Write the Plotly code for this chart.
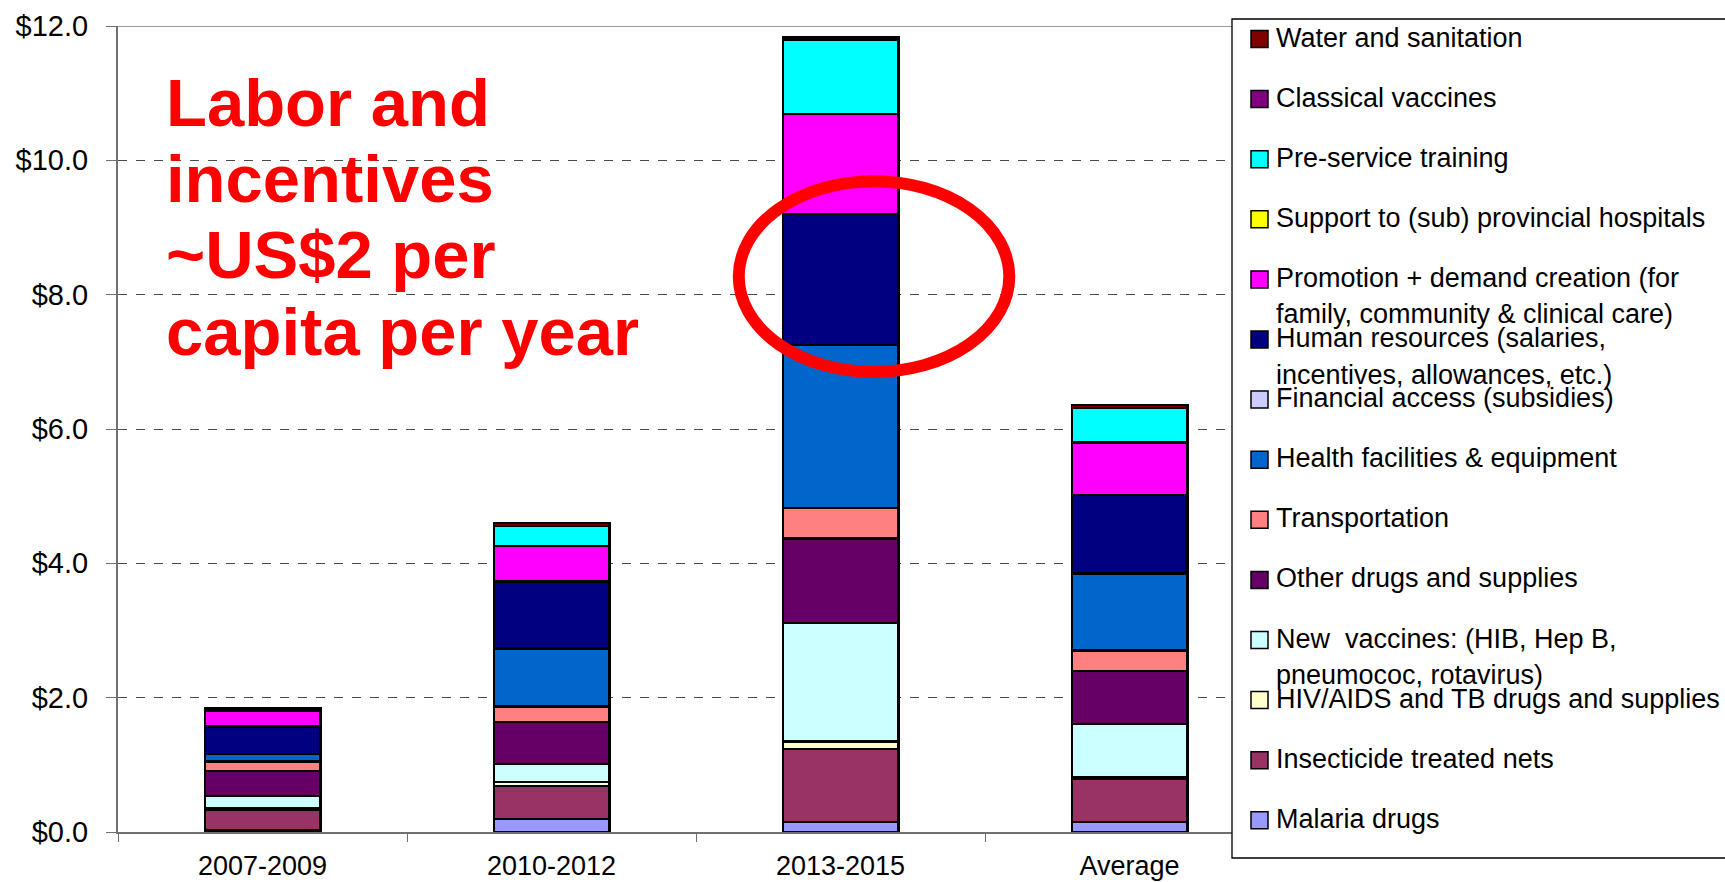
import plotly.graph_objects as go

# ---------------- data ----------------
categories = ["2007-2009", "2010-2012", "2013-2015", "Average"]

malaria_drugs = [0.02, 0.19, 0.15, 0.15]
insecticide_nets = [0.31, 0.495, 1.085, 0.635]
hiv_tb = [0.02, 0.06, 0.115, 0.035]
new_vaccines = [0.19, 0.265, 1.76, 0.79]
other_drugs = [0.37, 0.63, 1.26, 0.79]
transportation = [0.14, 0.23, 0.45, 0.30]
health_facilities = [0.11, 0.86, 2.43, 1.15]
financial_access = [0.0, 0.0, 0.0, 0.0]
human_resources = [0.41, 1.00, 1.95, 1.17]
promotion = [0.23, 0.53, 1.49, 0.78]
support_hospitals = [0.0, 0.0, 0.0, 0.0]
preservice_training = [0.01, 0.30, 1.11, 0.51]
classical_vaccines = [0.0, 0.0, 0.0, 0.0]
water_sanitation = [0.03, 0.04, 0.04, 0.05]

# stack order: bottom -> top
series_names = [
    "Malaria drugs",
    "Insecticide treated nets",
    "HIV/AIDS and TB drugs and supplies",
    "New  vaccines: (HIB, Hep B,<br>pneumococ, rotavirus)",
    "Other drugs and supplies",
    "Transportation",
    "Health facilities & equipment",
    "Financial access (subsidies)",
    "Human resources (salaries,<br>incentives, allowances, etc.)",
    "Promotion + demand creation (for<br>family, community & clinical care)",
    "Support to (sub) provincial hospitals",
    "Pre-service training",
    "Classical vaccines",
    "Water and sanitation",
]
series_values = [
    malaria_drugs, insecticide_nets, hiv_tb, new_vaccines, other_drugs,
    transportation, health_facilities, financial_access, human_resources,
    promotion, support_hospitals, preservice_training, classical_vaccines,
    water_sanitation,
]
series_colors = [
    "#9999FF", "#993366", "#FFFFCC", "#CCFFFF", "#660066",
    "#FF8080", "#0066CC", "#CCCCFF", "#000080",
    "#FF00FF", "#FFFF00", "#00FFFF", "#800080",
    "#800000",
]

callout_lines = ["Labor and", "incentives", "~US$2 per", "capita per year"]

# ---------------- layout geometry (pixels) ----------------
W, H = 1725, 882
PL, PR, PT, PB = 118, 1274, 26, 832   # plot area in pixels
FONT = "Liberation Sans, Arial, sans-serif"


def px_x(px):
    return (px - PL) / (PR - PL)


def px_y(py):
    return (PB - py) / (PB - PT)


fig = go.Figure()
for name, vals, col in zip(series_names, series_values, series_colors):
    fig.add_trace(go.Bar(
        x=categories, y=vals, name=name.replace("<br>", " "),
        marker=dict(color=col, line=dict(color="black", width=2.4)),
        showlegend=False,
    ))

shapes = []
annotations = []

# solid top border line at $12
shapes.append(dict(type="line", xref="paper", yref="y", x0=0, x1=1, y0=12, y1=12,
                   line=dict(color="#9a9a9a", width=2), layer="above"))

# red ellipse highlighting Human resources in 2013-2015
shapes.append(dict(type="circle", xref="x", yref="y",
                   x0=1.648, x1=2.584, y0=6.85, y1=9.69,
                   line=dict(color="#FF0000", width=12)))

# legend box
shapes.append(dict(type="rect", xref="paper", yref="paper",
                   x0=px_x(1232), x1=px_x(1740), y0=px_y(858), y1=px_y(19),
                   fillcolor="white", line=dict(color="black", width=1.3), layer="above"))

# manual legend (top entry = top of stack)
legend_order = list(range(len(series_names)))[::-1]
for i, idx in enumerate(legend_order):
    cy = 37.5 + 60.1 * i
    shapes.append(dict(type="rect", xref="paper", yref="paper",
                       x0=px_x(1251), x1=px_x(1268), y0=px_y(cy + 1.5 + 8.5), y1=px_y(cy + 1.5 - 8.5),
                       fillcolor=series_colors[idx], line=dict(color="black", width=1.5),
                       layer="above"))
    for j, line in enumerate(series_names[idx].split("<br>")):
        annotations.append(dict(
            xref="paper", yref="paper", x=px_x(1274), y=px_y(cy + 36.5 * j),
            xanchor="left", yanchor="middle", showarrow=False, text=line,
            font=dict(family=FONT, size=27, color="black"),
        ))

# red callout text
for k, line in enumerate(callout_lines):
    annotations.append(dict(
        xref="paper", yref="paper", x=px_x(164), y=px_y(102 + 76.5 * k),
        xanchor="left", yanchor="middle", showarrow=False, text="<b>%s</b>" % line,
        font=dict(family=FONT, size=67, color="#FF0000"),
    ))

fig.update_layout(
    width=W, height=H, autosize=False,
    margin=dict(l=PL, r=W - PR, t=PT, b=H - PB, pad=0, autoexpand=False),
    paper_bgcolor="white", plot_bgcolor="white",
    barmode="stack", bargap=0.6,
    font=dict(family=FONT, size=27, color="black"),
    shapes=shapes, annotations=annotations,
    showlegend=False,
    xaxis=dict(
        range=[-0.5, 3.5], showgrid=False, showline=True, linecolor="#707070", linewidth=2,
        ticks="outside", tickson="boundaries", ticklen=8, tickcolor="#707070",
        tickfont=dict(family=FONT, size=27, color="black"), ticklabelstandoff=9,
        automargin=False,
    ),
    yaxis=dict(
        range=[0, 12], dtick=2, tickprefix="$", tickformat=".1f",
        showgrid=True, gridcolor="#4a4a4a", griddash="dash", gridwidth=1,
        zeroline=False, showline=True, linecolor="#707070", linewidth=2,
        ticks="outside", ticklen=10, tickcolor="#707070",
        tickfont=dict(family=FONT, size=29, color="black"), ticklabelstandoff=12,
        automargin=False,
    ),
)

fig.write_html(
    "out.html",
    config={"displayModeBar": False},
    post_script="document.body.style.margin='0px';document.body.style.overflow='hidden';",
)
